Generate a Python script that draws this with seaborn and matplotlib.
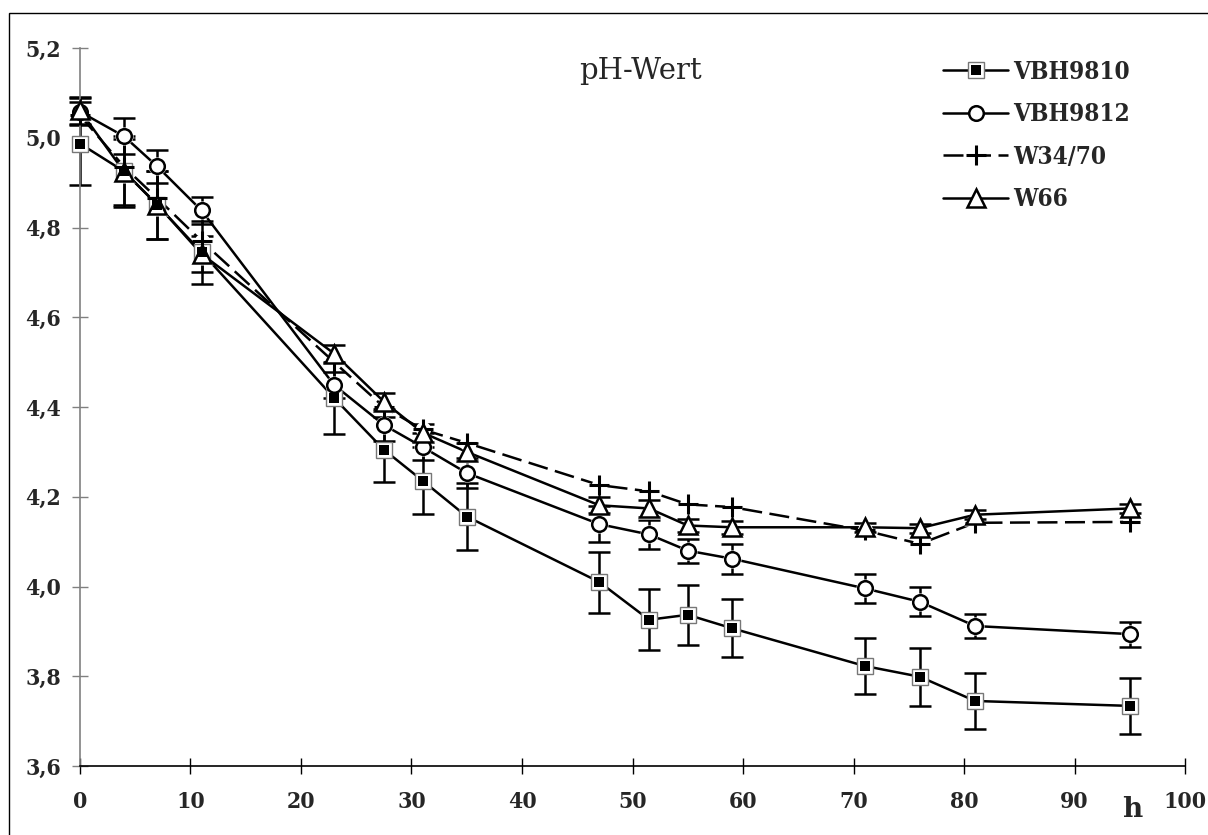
import matplotlib
matplotlib.use("Agg")
import matplotlib.pyplot as plt
import numpy as np
import pandas as pd
import seaborn as sns
from matplotlib.lines import Line2D
from matplotlib.legend_handler import HandlerTuple
from matplotlib.patches import Rectangle

# Sampling times (h)
hours = [0, 4, 7, 11, 23, 27.5, 31, 35, 47, 51.5, 55, 59, 71, 76, 81, 95]

# pH values per strain
ph_vbh9810 = [4.987, 4.925, 4.850, 4.745, 4.420, 4.305, 4.236, 4.156, 4.010, 3.926,
              3.937, 3.907, 3.823, 3.799, 3.745, 3.734]
ph_vbh9812 = [5.058, 5.003, 4.936, 4.838, 4.449, 4.360, 4.311, 4.253, 4.139, 4.116,
              4.080, 4.062, 3.996, 3.966, 3.912, 3.894]
ph_w3470 = [5.050, 4.935, 4.865, 4.770, 4.500, 4.400, 4.350, 4.320, 4.226, 4.212,
            4.183, 4.177, 4.125, 4.095, 4.142, 4.144]
ph_w66 = [5.061, 4.924, 4.851, 4.741, 4.519, 4.412, 4.343, 4.300, 4.181, 4.174,
          4.136, 4.132, 4.132, 4.130, 4.160, 4.174]

# Standard deviations (W34/70 bars are too small to show)
sd_vbh9810 = [0.093, 0.080, 0.075, 0.070, 0.080, 0.072, 0.075, 0.074, 0.068, 0.068,
              0.067, 0.065, 0.062, 0.065, 0.062, 0.063]
sd_vbh9812 = [0.030, 0.040, 0.036, 0.030, 0.030, 0.035, 0.030, 0.033, 0.040, 0.033,
              0.027, 0.033, 0.032, 0.032, 0.027, 0.028]
sd_w66 = [0.030, 0.073, 0.076, 0.040, 0.020, 0.020, 0.020, 0.020, 0.018, 0.018,
          0.015, 0.015, 0.010, 0.010, 0.010, 0.010]

strains = ["VBH9810", "VBH9812", "W34/70", "W66"]
values = {"VBH9810": ph_vbh9810, "VBH9812": ph_vbh9812, "W34/70": ph_w3470, "W66": ph_w66}
errors = {"VBH9810": sd_vbh9810, "VBH9812": sd_vbh9812, "W66": sd_w66}

y_ticks = [3.6, 3.8, 4.0, 4.2, 4.4, 4.6, 4.8, 5.0, 5.2]
y_tick_labels = ["3,6", "3,8", "4,0", "4,2", "4,4", "4,6", "4,8", "5,0", "5,2"]
x_ticks = [0, 10, 20, 30, 40, 50, 60, 70, 80, 90, 100]

df = pd.DataFrame({
    "h": np.tile(hours, len(strains)),
    "pH": np.concatenate([values[s] for s in strains]),
    "Stamm": np.repeat(strains, len(hours)),
})

sns.set_theme(style="white")
plt.rcParams["font.family"] = ["DejaVu Serif"]
plt.rcParams["font.stretch"] = "condensed"
plt.rcParams["font.weight"] = "bold"

fig = plt.figure(figsize=(12.08, 8.35), dpi=100)
ax = fig.add_axes([0.0662, 0.0826, 0.9148, 0.8599])

LW = 1.8
sns.lineplot(data=df, x="h", y="pH", hue="Stamm", style="Stamm",
             palette={s: "black" for s in strains},
             dashes={"VBH9810": "", "VBH9812": "", "W34/70": (8, 3), "W66": ""},
             estimator=None, sort=False, linewidth=LW, legend=False, ax=ax, zorder=2,
             clip_on=False)

for s, err in errors.items():
    ax.errorbar(hours, values[s], yerr=err, fmt="none", ecolor="black",
                elinewidth=LW, capsize=8, capthick=LW, zorder=2, clip_on=False)

# white halos so lines appear interrupted around markers
mk = dict(ls="none", clip_on=False)
ax.plot(hours, ph_vbh9812, marker="o", ms=13, mfc="white", mec="none", zorder=3, **mk)
ax.plot(hours, ph_w66, marker="^", ms=16, mfc="white", mec="none", zorder=3, **mk)
ax.plot(hours, ph_w3470, marker="o", ms=11, mfc="white", mec="none", zorder=3, **mk)

# markers
ax.plot(hours, ph_vbh9810, marker="s", ms=12, mfc="white", mec="#777777", mew=1.0, zorder=4, **mk)
ax.plot(hours, ph_vbh9810, marker="s", ms=7.5, mfc="black", mec="black", mew=0, zorder=5, **mk)
ax.plot(hours, ph_vbh9812, marker="o", ms=10.5, mfc="white", mec="black", mew=LW, zorder=4, **mk)
ax.plot(hours, ph_w3470, marker="+", ms=14, mec="black", mew=2.2, zorder=4, **mk)
ax.plot(hours, ph_w66, marker="^", ms=13, mfc="white", mec="black", mew=LW, zorder=4, **mk)

ax.set_xlim(0, 100)
ax.set_ylim(3.6, 5.2)
ax.set_xticks(x_ticks)
ax.set_xticklabels([str(t) for t in x_ticks])
ax.set_yticks(y_ticks)
ax.set_yticklabels(y_tick_labels)
ax.set_xlabel("")
ax.set_ylabel("")

for side in ("top", "right"):
    ax.spines[side].set_visible(False)
ax.spines["left"].set_color("#808080")
ax.spines["left"].set_linewidth(1.2)
ax.spines["bottom"].set_color("black")
ax.spines["bottom"].set_linewidth(1.2)
ax.tick_params(axis="y", direction="inout", length=11.5, width=1.0, color="#808080",
               labelsize=16.5, pad=8, left=True)
ax.tick_params(axis="x", direction="inout", length=11.5, width=1.0, color="black",
               labelsize=16.5, pad=12, bottom=True)
ax.grid(False)

ax.text(0.507, 0.968, "pH-Wert", transform=ax.transAxes, ha="center", va="center",
        fontsize=21, fontweight="normal", fontstretch="normal")
fig.text(0.937, 0.030, "h", ha="center", va="center", fontsize=20, fontstretch="normal")

# legend
h_sq = (Line2D([], [], color="black", lw=LW, marker="s", ms=12, mfc="white", mec="#777777", mew=1.0),
        Line2D([], [], ls="none", marker="s", ms=7.5, mfc="black", mec="black", mew=0))
h_ci = Line2D([], [], color="black", lw=LW, marker="o", ms=10.5, mfc="white", mec="black", mew=LW)
h_pl = Line2D([], [], color="black", lw=LW, ls=(0, (8, 3)), marker="+", ms=14, mec="black", mew=2.2)
h_tr = Line2D([], [], color="black", lw=LW, marker="^", ms=13, mfc="white", mec="black", mew=LW)
fig.legend([h_sq, h_ci, h_pl, h_tr], strains, loc="upper left",
           bbox_to_anchor=(943 / 1208, 1 - 60 / 835), frameon=False, fontsize=17.5,
           handlelength=2.68, handletextpad=0.2, labelspacing=0.76, borderpad=0,
           borderaxespad=0, numpoints=1,
           handler_map={tuple: HandlerTuple(ndivide=1, pad=0)})

# outer frame of the figure
fig.add_artist(Rectangle((8.5 / 1208, -0.05), 1.5, 1 - 13 / 835 + 0.05,
                         transform=fig.transFigure, fill=False, ec="black", lw=1.0))

fig.savefig("out.png", dpi=100)
